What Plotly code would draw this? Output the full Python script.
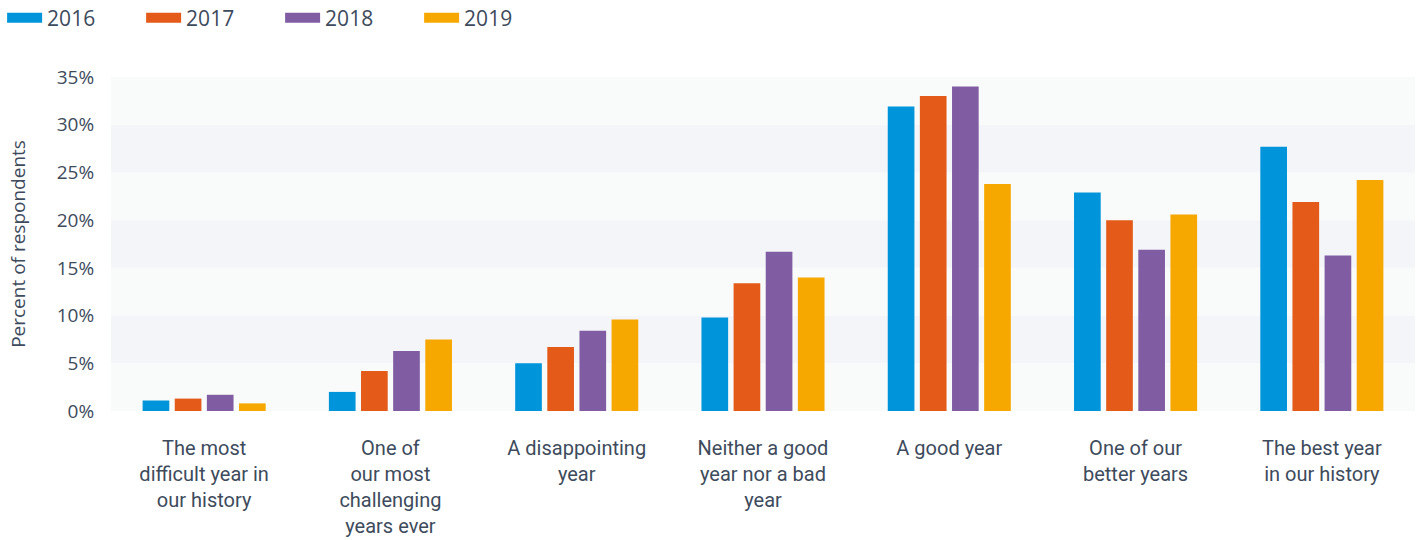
import plotly.graph_objects as go

categories = [
    "The most<br>difficult year in<br>our history",
    "One of<br>our most<br>challenging<br>years ever",
    "A disappointing<br>year",
    "Neither a good<br>year nor a bad<br>year",
    "A good year",
    "One of our<br>better years",
    "The best year<br>in our history",
]
years = ["2016", "2017", "2018", "2019"]
v2016 = [1.1, 2.0, 5.0, 9.8, 31.9, 22.9, 27.7]
v2017 = [1.3, 4.2, 6.7, 13.4, 33.0, 20.0, 21.9]
v2018 = [1.7, 6.3, 8.4, 16.7, 34.0, 16.9, 16.3]
v2019 = [0.8, 7.5, 9.6, 14.0, 23.8, 20.6, 24.2]
series = [v2016, v2017, v2018, v2019]
colors = ["#0095DA", "#E35A19", "#805DA3", "#F7A800"]
yticks = [0, 5, 10, 15, 20, 25, 30, 35]

fig = go.Figure()
for name, vals, col in zip(years, series, colors):
    fig.add_trace(go.Bar(
        x=categories, y=vals, name=name, marker_color=col,
        marker_line_width=0, showlegend=False, legendgroup=name,
    ))
for name, col in zip(years, colors):
    fig.add_trace(go.Scatter(
        x=[None], y=[None], mode="lines", name=name, legendgroup=name,
        line=dict(color=col, width=11),
    ))

# alternating background bands
band_colors = ["#f9fafa", "#f4f5f9"]
for i in range(len(yticks) - 1):
    fig.add_shape(type="rect", xref="paper", yref="y", x0=0, x1=1,
                  y0=yticks[i], y1=yticks[i + 1], fillcolor=band_colors[i % 2],
                  line_width=0, layer="below")

text_color = "#3d4b5c"
fig.update_layout(
    width=1416, height=540,
    margin=dict(l=111, r=1, t=77, b=129, autoexpand=False),
    paper_bgcolor="white", plot_bgcolor="white",
    barmode="group", bargap=0.31, bargroupgap=0.17,
    font=dict(family="Open Sans, sans-serif", color=text_color, size=18),
    legend=dict(orientation="h", x=-0.0835, y=1.1766,
                xanchor="left", yanchor="middle",
                entrywidth=89, entrywidthmode="pixels",
                font=dict(size=21, color=text_color), itemwidth=35,
                bgcolor="rgba(0,0,0,0)"),
    showlegend=True,
)
fig.update_xaxes(
    showgrid=False, zeroline=False, showline=False, automargin=False,
    ticks="outside", ticklen=19, tickcolor="rgba(0,0,0,0)",
    tickfont=dict(family="Liberation Sans Narrow, Roboto, sans-serif", size=20, color=text_color),
    tickangle=0,
)
fig.update_yaxes(
    range=[0, 35], tickvals=yticks, ticktext=[f"{t}%" for t in yticks],
    showgrid=False, zeroline=False, showline=False, automargin=False,
    ticks="outside", ticklen=12, tickcolor="rgba(0,0,0,0)",
    tickfont=dict(size=19, color=text_color),
    title=dict(text="Percent of respondents", font=dict(size=19, color=text_color), standoff=26),
)

fig.write_html("out.html", config={"displayModeBar": False},
               post_script="document.body.style.margin='0';")
